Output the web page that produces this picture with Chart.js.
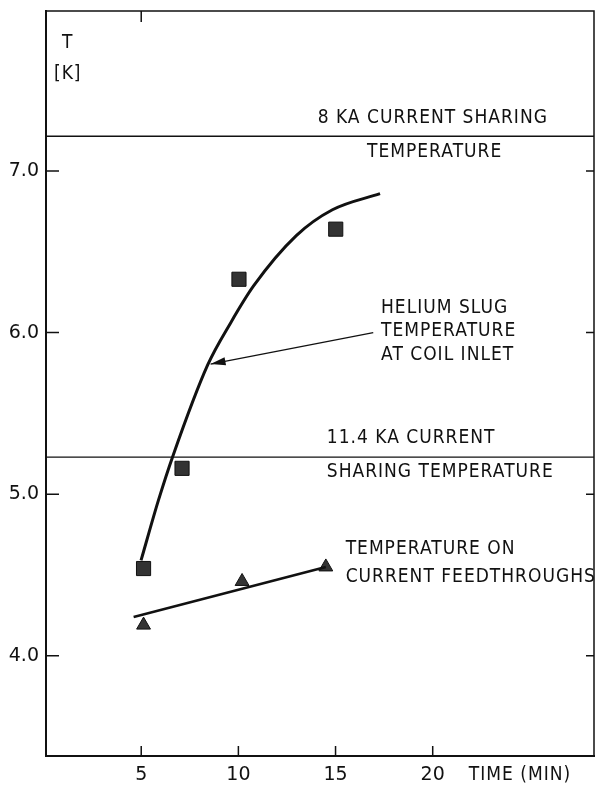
<!DOCTYPE html>
<html>
<head>
<meta charset="utf-8">
<script src="https://cdn.jsdelivr.net/npm/chart.js@4.4.1/dist/chart.umd.min.js"></script>
<style>
  html, body { margin: 0; padding: 0; background: #fff; }
  #wrap { width: 605px; height: 785px; position: relative; }
</style>
</head>
<body>
<div id="wrap"><canvas id="chart"></canvas></div>
<script>
// ── Data ─────────────────────────────────────────────────
const xTicks = [5, 10, 15, 20];
const yTicks = [4, 5, 6, 7];

// helium slug temperature at coil inlet (squares + smooth trend curve)
const slugX = [5.12, 7.10, 10.03, 15.01];
const slugY = [4.54, 5.16, 6.33, 6.64];
const slugCurveX = [4.99, 5.88, 6.64, 8.42, 9.60, 10.79, 12.98, 14.84, 17.29];
const slugCurveY = [4.59, 4.96, 5.24, 5.80, 6.06, 6.29, 6.60, 6.76, 6.86];

// temperature on current feedthroughs (triangles + straight fit)
const feedX = [5.12, 10.19, 14.50];
const feedY = [4.19, 4.46, 4.55];
const feedFitX = [4.61, 14.50];
const feedFitY = [4.24, 4.55];

// current sharing temperatures
const sharingLevels = [7.215, 5.23];

const pts = (xs, ys) => xs.map((x, i) => ({ x, y: ys[i] }));

// ── Annotations (data coords) ────────────────────────────
const notes = [
  { text: "8 KA CURRENT SHARING", x: 14.08, y: 7.325 },
  { text: "TEMPERATURE", x: 16.62, y: 7.12 },
  { text: "HELIUM SLUG", x: 17.34, y: 6.15 },
  { text: "TEMPERATURE", x: 17.34, y: 6.01 },
  { text: "AT COIL INLET", x: 17.34, y: 5.86 },
  { text: "11.4 KA CURRENT", x: 14.55, y: 5.35 },
  { text: "SHARING TEMPERATURE", x: 14.55, y: 5.14 },
  { text: "TEMPERATURE ON", x: 15.52, y: 4.66 },
  { text: "CURRENT FEEDTHROUGHS", x: 15.52, y: 4.49 },
  { text: "T", x: 1.22, y: 7.79, align: "center" },
  { text: "[K]", x: 1.22, y: 7.60, align: "center" }
];
const arrow = { from: { x: 16.94, y: 6.00 }, to: { x: 8.57, y: 5.805 } };

const FAMILY = '"DejaVu Sans", "Liberation Sans", sans-serif';
const FONT = "19px " + FAMILY;
Chart.defaults.font.family = FAMILY;
Chart.defaults.font.size = 19;
Chart.defaults.color = "#111";

// narrow lettering like the drawing-office stencil of the original
function stencilText(ctx, text, px, py, align) {
  ctx.save();
  ctx.translate(px, py);
  ctx.scale(0.9, 1);
  ctx.font = FONT;
  ctx.letterSpacing = "1.1px";
  ctx.textBaseline = "middle";
  let w = ctx.measureText(text).width;
  let dx = align === "center" ? -w / 2 : 0;
  ctx.textAlign = "left";
  ctx.fillText(text, dx, 0);
  ctx.restore();
}

// ── Frame, inward ticks, reference lines, labels ─────────
const figurePlugin = {
  id: "figure",
  afterDatasetsDraw(chart) {
    const { ctx, chartArea: a, scales: { x, y } } = chart;
    ctx.save();
    ctx.strokeStyle = "#111";

    // top + right frame
    ctx.lineWidth = 1.5;
    ctx.beginPath();
    ctx.moveTo(a.left, a.top); ctx.lineTo(a.right, a.top); ctx.lineTo(a.right, a.bottom);
    ctx.stroke();

    // sharing temperature lines
    ctx.lineWidth = 1.3;
    sharingLevels.forEach((v) => {
      const py = y.getPixelForValue(v);
      ctx.beginPath(); ctx.moveTo(a.left, py); ctx.lineTo(a.right, py); ctx.stroke();
    });

    // inward tick marks
    ctx.lineWidth = 1.5;
    ctx.beginPath();
    xTicks.forEach((v) => {
      const px = x.getPixelForValue(v);
      ctx.moveTo(px, a.bottom); ctx.lineTo(px, a.bottom - 10);
    });
    const topX = x.getPixelForValue(xTicks[0]);
    ctx.moveTo(topX, a.top); ctx.lineTo(topX, a.top + 11);
    yTicks.forEach((v) => {
      const py = y.getPixelForValue(v);
      ctx.moveTo(a.left, py); ctx.lineTo(a.left + 13, py);
      ctx.moveTo(a.right, py); ctx.lineTo(a.right - 8, py);
    });
    ctx.stroke();

    // arrow to the slug curve
    const fx = x.getPixelForValue(arrow.from.x), fy = y.getPixelForValue(arrow.from.y);
    const tx = x.getPixelForValue(arrow.to.x), ty = y.getPixelForValue(arrow.to.y);
    ctx.lineWidth = 1.2;
    ctx.beginPath(); ctx.moveTo(fx, fy); ctx.lineTo(tx, ty); ctx.stroke();
    const ang = Math.atan2(ty - fy, tx - fx);
    ctx.fillStyle = "#111";
    ctx.beginPath();
    ctx.moveTo(tx, ty);
    ctx.lineTo(tx - 15 * Math.cos(ang) + 4 * Math.sin(ang), ty - 15 * Math.sin(ang) - 4 * Math.cos(ang));
    ctx.lineTo(tx - 15 * Math.cos(ang) - 4 * Math.sin(ang), ty - 15 * Math.sin(ang) + 4 * Math.cos(ang));
    ctx.closePath(); ctx.fill();

    // text notes
    ctx.fillStyle = "#111";
    notes.forEach((n) => {
      stencilText(ctx, n.text, x.getPixelForValue(n.x), y.getPixelForValue(n.y), n.align);
    });

    // axis title sits on the tick-label row
    stencilText(ctx, "TIME (MIN)", x.getPixelForValue(21.86), a.bottom + 19);
    ctx.restore();
  }
};

// no label-overflow padding: the plot box is fixed by layout padding + afterFit
const noPad = (s) => { s.paddingLeft = 0; s.paddingRight = 0; s.paddingTop = 0; s.paddingBottom = 0; };

new Chart(document.getElementById("chart"), {
  type: "line",
  data: {
    datasets: [
      {
        data: pts(slugCurveX, slugCurveY),
        borderColor: "#111",
        borderWidth: 3,
        pointRadius: 0,
        cubicInterpolationMode: "monotone"
      },
      {
        data: pts(feedFitX, feedFitY),
        borderColor: "#111",
        borderWidth: 2.5,
        pointRadius: 0
      },
      {
        data: pts(slugX, slugY),
        showLine: false,
        pointStyle: "rect",
        pointRadius: 10,
        backgroundColor: "#333",
        borderColor: "#111",
        borderWidth: 1
      },
      {
        data: pts(feedX, feedY),
        showLine: false,
        pointStyle: "triangle",
        pointRadius: 8,
        backgroundColor: "#333",
        borderColor: "#111",
        borderWidth: 1
      }
    ]
  },
  options: {
    responsive: true,
    maintainAspectRatio: false,
    animation: false,
    layout: { padding: { top: 7, right: 3, left: 0, bottom: 0 } },
    plugins: { legend: { display: false }, tooltip: { enabled: false } },
    scales: {
      x: {
        type: "linear",
        min: 0.1,
        max: 28.3,
        afterBuildTicks: (s) => { s.ticks = xTicks.map((v) => ({ value: v })); },
        afterFit: (s) => { s.height = 29; noPad(s); },
        grid: { display: false, drawTicks: false },
        border: { color: "#111", width: 2 },
        ticks: { padding: 8, color: "#111", maxRotation: 0, callback: (v) => String(v) }
      },
      y: {
        type: "linear",
        min: 3.38,
        max: 7.99,
        afterBuildTicks: (s) => { s.ticks = yTicks.map((v) => ({ value: v })); },
        afterFit: (s) => { s.width = 46; noPad(s); },
        grid: { display: false, drawTicks: false },
        border: { color: "#111", width: 2 },
        ticks: { padding: 7, color: "#111", callback: (v) => v.toFixed(1) }
      }
    }
  },
  plugins: [figurePlugin]
});
</script>
</body>
</html>
